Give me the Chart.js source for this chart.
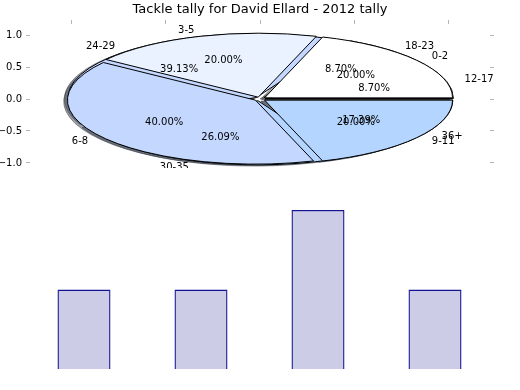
<!DOCTYPE html>
<html><head><meta charset="utf-8">
<script src="https://cdn.jsdelivr.net/npm/chart.js@4"></script>
<style>
html,body{margin:0;padding:0;background:#fff;}
#wrap{position:relative;width:520px;height:390px;overflow:hidden;background:#fff;}
#pieBox{position:absolute;left:0;top:0;width:520px;height:174px;}
#barBox{position:absolute;left:0;top:168px;width:520px;height:222px;background:#fff;}
</style></head><body>
<div id="wrap"><div id="pieBox"><canvas id="pie"></canvas></div><div id="barBox"><canvas id="bar"></canvas></div></div>
<script>
// ---- data ----
const TITLE = 'Tackle tally for David Ellard - 2012 tally';
const labelsA = ['0-2', '3-5', '6-8', '9-11'];
const valuesA = [1, 1, 2, 1];
const colorsA = ['#ffffff', '#eaf1ff', '#c4d7ff', '#b3d5ff'];
const labelsB = ['12-17', '18-23', '24-29', '30-35', '36+'];
const valuesB = [2, 2, 9, 6, 4];
const colorsB = ['#ffffff', '#eaf1ff', '#c4d7ff', '#b3d5ff', '#ffffff'];
const yTickValues = [-1, -0.5, 0, 0.5, 1];
const xTickValues = [-1, -0.5, 0, 0.5, 1];
const barCategories = ['0-2', '3-5', '6-8', '9-11'];
const barValues = [1, 1, 2, 1];

// ---- style ----
Chart.defaults.font.family = '"DejaVu Sans", sans-serif';
const TICK = '#b4b4b4';
const BAR_FILL = '#cccce6';
const BAR_EDGE = '#141492';
const XLIM = 1.2234, YLIM = 1.1719;
const EXPLODE = 0.03, LABEL_D = 1.1, PCT_D = 0.6, R0 = 100, SHADOW = 0.02;
const pieDefs = [{labels: labelsB, values: valuesB}, {labels: labelsA, values: valuesA}];

function hexToRgb(h) {
  h = h.replace('#', '');
  return [parseInt(h.slice(0, 2), 16), parseInt(h.slice(2, 4), 16), parseInt(h.slice(4, 6), 16)];
}
const fmt = v => (v < 0 ? '\u2212' : '') + Math.abs(v).toFixed(1);
const noPad = s => { s.paddingTop = 0; s.paddingBottom = 0; s.paddingLeft = 0; s.paddingRight = 0; };

const piePlugin = {
  id: 'ellipsePies',
  afterDatasetsUpdate(chart) {
    chart.data.datasets.forEach((ds, i) => {
      chart.getDatasetMeta(i).data.forEach(el => { el.innerRadius = 0; el.outerRadius = R0; });
    });
  },
  beforeDatasetsDraw(chart) {
    const ctx = chart.ctx;
    const xs = chart.scales.x, ys = chart.scales.y;
    const cx = xs.getPixelForValue(0), cy = ys.getPixelForValue(0);
    const sx = (xs.getPixelForValue(1) - cx) / R0;
    const sy = (cy - ys.getPixelForValue(1)) / R0;
    ctx.save();
    const base = ctx.getTransform();
    const metas = chart.data.datasets.map((d, i) => chart.getDatasetMeta(i));
    const setLocal = (el, shx, shy) => {
      const mid = (el.startAngle + el.endAngle) / 2;
      ctx.setTransform(base);
      ctx.translate(cx + shx, cy + shy);
      ctx.scale(sx, -sy);
      ctx.translate(EXPLODE * R0 * Math.cos(mid), EXPLODE * R0 * Math.sin(mid));
      ctx.translate(-el.x, -el.y);
    };
    const wedgePath = el => {
      ctx.beginPath();
      ctx.moveTo(el.x, el.y);
      ctx.arc(el.x, el.y, R0, el.startAngle, el.endAngle);
      ctx.closePath();
    };
    // shadows
    metas.forEach((meta, i) => meta.data.forEach((el, j) => {
      const [r, g, b] = hexToRgb(chart.data.datasets[i].backgroundColor[j]);
      const sc = `rgba(${Math.round(r * 0.3)},${Math.round(g * 0.3)},${Math.round(b * 0.3)},0.5)`;
      setLocal(el, -SHADOW * sx * R0, SHADOW * sy * R0);
      wedgePath(el);
      ctx.setTransform(base);
      ctx.fillStyle = sc; ctx.fill();
      ctx.strokeStyle = sc; ctx.lineWidth = 1; ctx.stroke();
    }));
    // wedges
    metas.forEach(meta => meta.data.forEach(el => {
      ctx.save();
      setLocal(el, 0, 0);
      el.draw(ctx);
      ctx.restore();
      setLocal(el, 0, 0);
      wedgePath(el);
      ctx.setTransform(base);
      ctx.strokeStyle = '#000'; ctx.lineWidth = 1; ctx.stroke();
    }));
    // texts
    ctx.setTransform(base);
    ctx.font = '10px "DejaVu Sans"';
    ctx.fillStyle = '#000';
    ctx.textBaseline = 'middle';
    metas.forEach((meta, i) => {
      const def = pieDefs[i];
      const total = def.values.reduce((a, b) => a + b, 0);
      meta.data.forEach((el, j) => {
        const mid = (el.startAngle + el.endAngle) / 2;
        const c = Math.cos(mid), s = Math.sin(mid);
        ctx.textAlign = c > 0 ? 'left' : 'right';
        ctx.fillText(def.labels[j], xs.getPixelForValue((LABEL_D + EXPLODE) * c), ys.getPixelForValue((LABEL_D + EXPLODE) * s));
        ctx.textAlign = 'center';
        ctx.fillText((def.values[j] / total * 100).toFixed(2) + '%', xs.getPixelForValue((PCT_D + EXPLODE) * c), ys.getPixelForValue((PCT_D + EXPLODE) * s));
      });
    });
    ctx.restore();
    return false;
  }
};

const tickGrid = {drawOnChartArea: false, drawTicks: true, tickLength: 4, color: TICK, lineWidth: 1};

new Chart(document.getElementById('pie'), {
  type: 'pie',
  data: {
    labels: labelsB,
    datasets: [
      {data: valuesB, backgroundColor: colorsB, borderWidth: 0},
      {data: valuesA, backgroundColor: colorsA, borderWidth: 0}
    ]
  },
  options: {
    responsive: true, maintainAspectRatio: false, animation: false, events: [],
    rotation: 90,
    layout: {padding: 0},
    plugins: {
      legend: {display: false}, tooltip: {enabled: false},
      title: {display: true, text: TITLE, color: '#000', font: {size: 13, weight: 'normal'}, padding: {top: 2, bottom: 2}}
    },
    scales: {
      x: {type: 'linear', axis: 'x', position: 'top', min: -XLIM, max: XLIM,
          afterBuildTicks: s => { s.ticks = xTickValues.map(v => ({value: v})); },
          afterFit: s => { s.height = 4.4; noPad(s); },
          ticks: {display: false}, grid: tickGrid, border: {display: false}},
      y: {type: 'linear', axis: 'y', position: 'left', min: -YLIM, max: YLIM,
          afterBuildTicks: s => { s.ticks = yTickValues.map(v => ({value: v})); },
          afterFit: s => { s.width = 30; noPad(s); },
          ticks: {color: '#000', font: {size: 10}, padding: 4, callback: v => fmt(v)},
          grid: tickGrid, border: {display: false}},
      y2: {type: 'linear', axis: 'y', position: 'right', min: -YLIM, max: YLIM,
          afterBuildTicks: s => { s.ticks = yTickValues.map(v => ({value: v})); },
          afterFit: s => { s.width = 30; noPad(s); },
          ticks: {display: false}, grid: tickGrid, border: {display: false}}
    }
  },
  plugins: [piePlugin]
});

new Chart(document.getElementById('bar'), {
  type: 'bar',
  data: {
    labels: barCategories,
    datasets: [{data: barValues, backgroundColor: BAR_FILL, borderColor: BAR_EDGE,
                borderWidth: 1.4, barPercentage: 0.453, categoryPercentage: 1}]
  },
  options: {
    responsive: true, maintainAspectRatio: false, animation: false, events: [],
    layout: {padding: {left: 25.5, right: 26.5, top: 0, bottom: 21}},
    plugins: {legend: {display: false}, tooltip: {enabled: false}},
    scales: {x: {display: false}, y: {display: false, min: 0, max: 2.53}}
  }
});
</script>
</body></html>
